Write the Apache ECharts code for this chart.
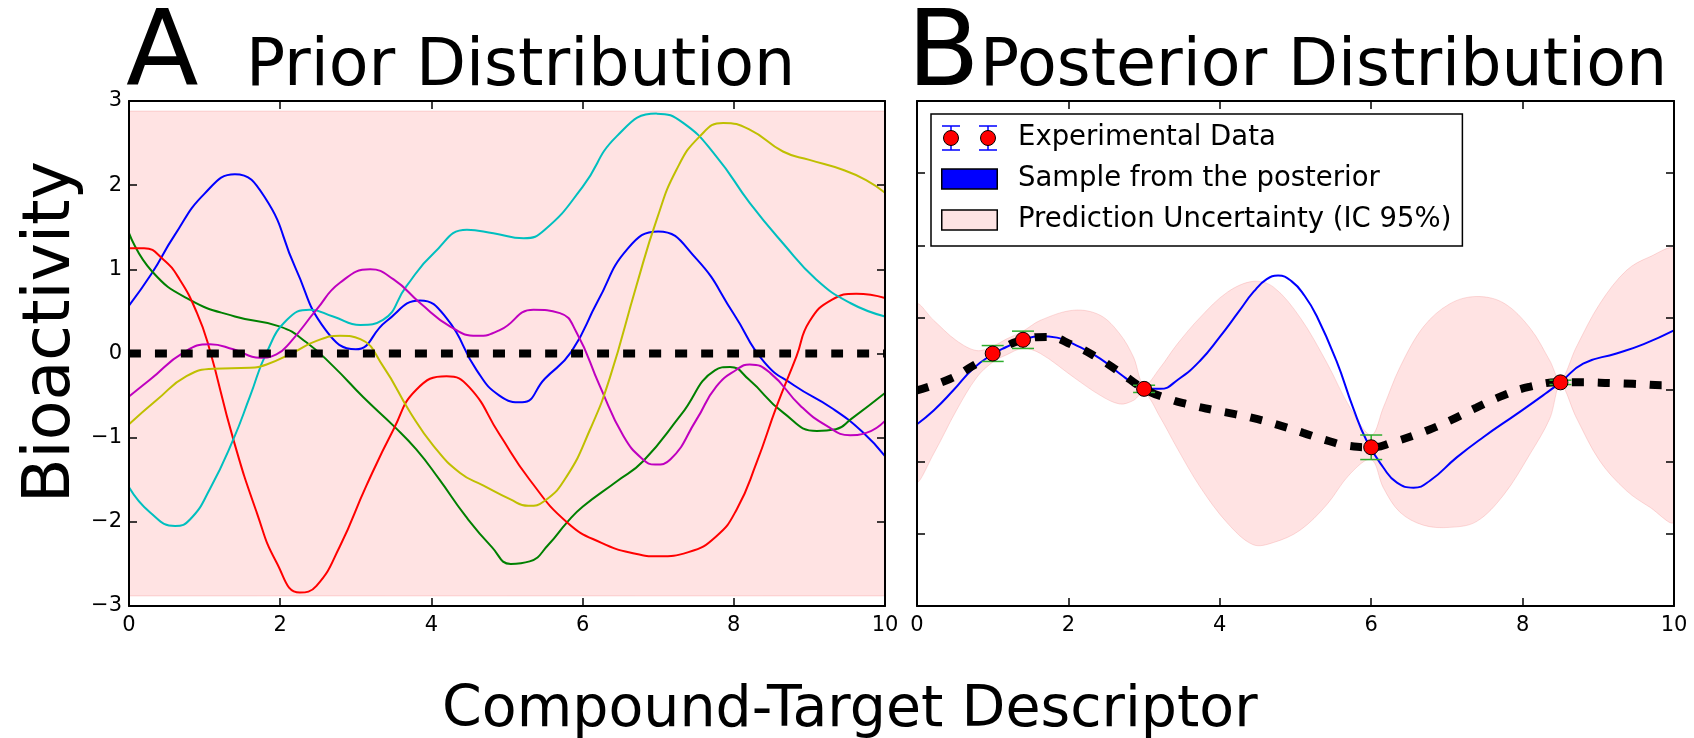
<!DOCTYPE html>
<html>
<head>
<meta charset="utf-8">
<title>Prior and Posterior Distribution</title>
<script src="https://cdn.jsdelivr.net/npm/echarts@6/dist/echarts.min.js"></script>
<style>
  html, body { margin: 0; padding: 0; background: #fff; }
  #chart { width: 1694px; height: 738px; }
</style>
</head>
<body>
<div id="chart"></div>
<script>
// ---- panel A: prior samples ----
const priorBandX = [0, 10]
const priorBandLo = [-2.88, -2.88]
const priorBandHi = [2.88, 2.88]
const priorMeanX = [0, 10]
const priorMeanY = [0, 0]

const blueX = [0, 0.3, 0.6, 1.0, 1.4, 1.8, 2.2, 2.6, 3.0, 3.4, 3.85, 4.2, 4.6, 4.9, 5.2, 5.5, 5.85, 6.2, 6.6, 7.0, 7.5, 8.0, 8.4, 8.8, 9.3, 9.7, 10]
const blueY = [0.57, 0.95, 1.4, 1.9, 2.13, 1.85, 1.02, 0.28, 0.05, 0.38, 0.63, 0.42, -0.2, -0.5, -0.58, -0.3, 0.02, 0.62, 1.25, 1.45, 1.13, 0.47, -0.1, -0.38, -0.65, -0.93, -1.22]

const greenX = [0, 0.3, 0.8, 1.4, 2.0, 2.35, 2.7, 3.1, 3.5, 3.8, 4.1, 4.45, 4.8, 5.05, 5.3, 5.55, 5.8, 6.0, 6.45, 6.8, 7.3, 7.75, 7.95, 8.2, 8.65, 9.1, 9.35, 9.55, 10]
const greenY = [1.43, 0.98, 0.64, 0.44, 0.32, 0.13, -0.15, -0.52, -0.86, -1.14, -1.49, -1.93, -2.3, -2.5, -2.47, -2.27, -2.0, -1.82, -1.52, -1.28, -0.73, -0.2, -0.16, -0.31, -0.7, -0.92, -0.9, -0.78, -0.47]

const redX = [0, 0.2, 0.45, 0.67, 0.9, 1.05, 1.38, 1.69, 1.95, 2.26, 2.48, 2.79, 3.14, 3.5, 3.8, 4.2, 4.5, 4.9, 5.3, 5.8, 6.25, 6.7, 7.0, 7.4, 7.77, 8.04, 8.3, 8.57, 8.83, 9.0, 9.3, 9.62, 10]
const redY = [1.25, 1.25, 1.12, 0.88, 0.48, 0.1, -1.02, -1.89, -2.48, -2.84, -2.76, -2.29, -1.57, -0.9, -0.43, -0.27, -0.4, -0.96, -1.5, -2.01, -2.25, -2.38, -2.41, -2.36, -2.17, -1.85, -1.3, -0.62, -0.03, 0.38, 0.64, 0.71, 0.66]

const cyanX = [0, 0.28, 0.61, 0.81, 1.07, 1.38, 1.6, 1.82, 2.09, 2.39, 2.7, 3.06, 3.36, 3.67, 4.03, 4.47, 4.82, 5.22, 5.5, 6.0, 6.45, 6.98, 7.33, 7.77, 8.21, 8.65, 9.09, 9.54, 10]
const cyanY = [-1.59, -1.89, -2.05, -1.97, -1.61, -1.02, -0.51, 0.01, 0.4, 0.52, 0.44, 0.34, 0.4, 0.8, 1.19, 1.47, 1.43, 1.37, 1.47, 1.98, 2.58, 2.85, 2.74, 2.34, 1.79, 1.31, 0.88, 0.6, 0.44]

const magentaX = [0, 0.28, 0.72, 1.07, 1.38, 1.73, 1.95, 2.13, 2.48, 2.79, 3.19, 3.5, 3.85, 4.25, 4.6, 4.91, 5.35, 5.7, 5.92, 6.23, 6.54, 6.8, 6.96, 7.16, 7.51, 7.77, 8.04, 8.21, 8.48, 8.88, 9.23, 9.54, 9.76, 10]
const magentaY = [-0.51, -0.31, 0.01, 0.11, 0.05, -0.05, -0.01, 0.13, 0.52, 0.84, 1.0, 0.88, 0.6, 0.32, 0.21, 0.28, 0.52, 0.48, 0.25, -0.39, -0.98, -1.26, -1.32, -1.26, -0.78, -0.39, -0.19, -0.13, -0.23, -0.62, -0.86, -0.97, -0.94, -0.8]

const yellowX = [0, 0.37, 0.76, 1.12, 1.6, 1.82, 2.17, 2.48, 2.79, 3.06, 3.36, 3.72, 4.03, 4.38, 4.69, 5.04, 5.28, 5.5, 5.79, 6.1, 6.36, 6.71, 6.98, 7.24, 7.55, 7.86, 8.21, 8.65, 9.0, 9.45, 9.75, 10]
const yellowY = [-0.84, -0.55, -0.27, -0.18, -0.17, -0.13, 0.01, 0.15, 0.21, 0.17, -0.15, -0.7, -1.1, -1.42, -1.57, -1.73, -1.81, -1.75, -1.46, -0.9, -0.29, 0.8, 1.59, 2.18, 2.58, 2.74, 2.66, 2.4, 2.3, 2.18, 2.06, 1.91]

// ---- panel B: posterior ----
const postX = [0, 0.22, 0.48, 0.74, 1.0, 1.18, 1.4, 1.63, 1.85, 2.11, 2.42, 2.68, 2.9, 3.05, 3.21, 3.45, 3.74, 4.0, 4.25, 4.45, 4.62, 4.77, 4.95, 5.12, 5.28, 5.54, 5.76, 5.94, 6.16, 6.34, 6.56, 6.78, 7.13, 7.48, 7.92, 8.27, 8.5, 8.8, 9.24, 9.6, 10]
const postY = [-0.48, -0.29, -0.01, 0.29, 0.49, 0.59, 0.69, 0.74, 0.72, 0.61, 0.43, 0.22, 0.06, 0.01, 0.01, 0.14, 0.4, 0.73, 1.08, 1.36, 1.53, 1.58, 1.5, 1.3, 1.02, 0.4, -0.25, -0.71, -1.08, -1.29, -1.36, -1.26, -0.94, -0.66, -0.34, -0.08, 0.1, 0.36, 0.5, 0.63, 0.82]

const meanX = [0, 0.44, 0.74, 1.0, 1.4, 1.71, 2.07, 2.37, 2.68, 3.0, 3.3, 3.6, 3.9, 4.2, 4.5, 4.8, 5.1, 5.4, 5.7, 6.0, 6.29, 6.73, 7.04, 7.39, 7.75, 8.1, 8.5, 8.8, 9.16, 9.46, 9.86, 10]
const meanY = [-0.01, 0.15, 0.33, 0.49, 0.69, 0.73, 0.61, 0.45, 0.24, 0.01, -0.12, -0.21, -0.28, -0.34, -0.41, -0.5, -0.6, -0.7, -0.78, -0.8, -0.73, -0.57, -0.43, -0.25, -0.08, 0.04, 0.1, 0.1, 0.09, 0.08, 0.06, 0.06]

const bandX = [0, 0.22, 0.52, 0.79, 1.0, 1.18, 1.4, 1.63, 2.07, 2.42, 2.68, 2.86, 3.0, 3.21, 3.43, 3.74, 4.1, 4.44, 4.71, 5.06, 5.41, 5.72, 6.0, 6.16, 6.38, 6.69, 7.04, 7.39, 7.75, 8.1, 8.36, 8.5, 8.71, 9.02, 9.37, 9.68, 10]
const bandHi = [1.17, 0.96, 0.68, 0.54, 0.6, 0.7, 0.81, 0.96, 1.1, 1.03, 0.77, 0.45, 0.06, 0.3, 0.62, 1.0, 1.35, 1.5, 1.42, 1.0, 0.38, -0.25, -0.63, -0.25, 0.31, 0.87, 1.19, 1.29, 1.2, 0.85, 0.4, 0.13, 0.59, 1.19, 1.65, 1.84, 1.93]
const bandLo = [-1.26, -0.89, -0.29, 0.17, 0.38, 0.48, 0.57, 0.5, 0.17, -0.08, -0.2, -0.15, -0.04, -0.38, -0.8, -1.35, -1.85, -2.15, -2.12, -1.95, -1.6, -1.17, -0.97, -1.36, -1.7, -1.88, -1.91, -1.83, -1.46, -0.89, -0.4, 0.07, -0.39, -0.99, -1.4, -1.63, -1.82]

const pointX = [1, 1.4, 3, 6, 8.5]
const pointY = [0.5, 0.69, 0.01, -0.8, 0.1]
const pointErr = [0.11, 0.12, 0.05, 0.17, 0.03]

const xTicks = [0, 10, 2]      // min, max, interval
const priorYTicks = [-3, 3, 1]
const postYTicks = [-3, 4, 1]

const FONT = '"DejaVu Sans", sans-serif'

function pairs(xs, ys) {
  return xs.map((x, i) => [x, ys[i]])
}

function minus(v) {
  return v < 0 ? '\u2212' + Math.abs(v) : String(v)
}

function svgIcon(body) {
  return 'image://data:image/svg+xml;charset=utf-8,' + encodeURIComponent(
    '<svg xmlns="http://www.w3.org/2000/svg" width="72" height="26" viewBox="0 0 72 26" preserveAspectRatio="none">' + body + '</svg>')
}

const iconData = svgIcon(
  '<path d="M10 1V25M1 1H19M1 25H19M47 1V25M38 1H56M38 25H56" stroke="#0000ff" stroke-width="1.5" fill="none"/>' +
  '<circle cx="10" cy="13" r="7.5" fill="#ff0000" stroke="#000" stroke-width="1"/>' +
  '<circle cx="47" cy="13" r="7.5" fill="#ff0000" stroke="#000" stroke-width="1"/>')
const iconSample = svgIcon('<rect x="0.75" y="3" width="55.5" height="20" fill="#0000ff" stroke="#000" stroke-width="1.5"/>')
const iconBand = svgIcon('<rect x="0.75" y="3" width="55.5" height="20" fill="#fde3e3" stroke="#000" stroke-width="1.5"/>')

const frameLine = { onZero: false, lineStyle: { color: '#000', width: 2 } }
const frameTick = { inside: true, length: 8, lineStyle: { color: '#000', width: 1.5 } }

function xAxisPair(gridIndex) {
  const base = {
    gridIndex: gridIndex,
    type: 'value',
    min: xTicks[0],
    max: xTicks[1],
    interval: xTicks[2],
    z: 10,
    splitLine: { show: false },
    axisLine: frameLine,
    axisTick: frameTick
  }
  return [
    Object.assign({}, base, {
      position: 'bottom',
      axisLabel: { fontSize: 21, color: '#000', fontFamily: FONT, margin: 9 }
    }),
    Object.assign({}, base, { position: 'top', axisLabel: { show: false } })
  ]
}

function yAxisPair(gridIndex, ticks, showLabel) {
  const base = {
    gridIndex: gridIndex,
    type: 'value',
    min: ticks[0],
    max: ticks[1],
    interval: ticks[2],
    z: 10,
    splitLine: { show: false },
    axisLine: frameLine,
    axisTick: frameTick
  }
  return [
    Object.assign({}, base, {
      position: 'left',
      axisLabel: showLabel
        ? { fontSize: 21, color: '#000', fontFamily: FONT, margin: 7, formatter: minus }
        : { show: false }
    }),
    Object.assign({}, base, { position: 'right', axisLabel: { show: false } })
  ]
}

function bandSeries(name, xs, lo, hi, axisIndex, smooth) {
  return {
    name: name,
    type: 'custom',
    xAxisIndex: axisIndex,
    yAxisIndex: axisIndex,
    z: 1,
    silent: true,
    data: xs.map((x, i) => [x, lo[i], hi[i]]),
    encode: { x: 0, y: [1, 2] },
    renderItem: function (params, api) {
      if (params.dataIndex !== 0) return
      const cs = params.coordSys
      const top = xs.map((x, i) => api.coord([x, hi[i]]))
      const bottom = xs.map((x, i) => api.coord([x, lo[i]])).reverse()
      return {
        type: 'polygon',
        shape: {
          points: top.concat(bottom),
          smooth: smooth,
          smoothConstraint: [[cs.x, cs.y], [cs.x + cs.width, cs.y + cs.height]]
        },
        style: { fill: 'rgba(255, 0, 0, 0.11)', stroke: 'rgba(240, 120, 120, 0.25)', lineWidth: 1 }
      }
    }
  }
}

function curve(name, xs, ys, color, axisIndex) {
  return {
    name: name,
    type: 'line',
    xAxisIndex: axisIndex,
    yAxisIndex: axisIndex,
    data: pairs(xs, ys),
    smooth: 0.5,
    showSymbol: false,
    z: 3,
    lineStyle: { color: color, width: 2 }
  }
}

function dashed(name, xs, ys, axisIndex) {
  return {
    name: name,
    type: 'line',
    xAxisIndex: axisIndex,
    yAxisIndex: axisIndex,
    data: pairs(xs, ys),
    smooth: 0.5,
    showSymbol: false,
    z: 5,
    lineStyle: { color: '#000', width: 8, type: [12, 14], cap: 'butt' }
  }
}

const xAxes = xAxisPair(0).concat(xAxisPair(1))
const yAxes = yAxisPair(0, priorYTicks, true).concat(yAxisPair(1, postYTicks, false))
// axis pairs: index 0,1 -> grid 0; 2,3 -> grid 1. Series use the bottom / left one.
const A = 0
const B = 2

const chart = echarts.init(document.getElementById('chart'))
chart.setOption({
  animation: false,
  backgroundColor: '#fff',
  textStyle: { fontFamily: FONT },
  grid: [
    { left: 129, top: 101, width: 756, height: 505 },
    { left: 917, top: 101, width: 757, height: 505 }
  ],
  xAxis: xAxes,
  yAxis: yAxes,
  legend: {
    orient: 'vertical',
    left: 931,
    top: 114,
    padding: [10, 11, 12, 10],
    itemWidth: 72,
    itemHeight: 26,
    itemGap: 13,
    borderColor: '#000',
    borderWidth: 1.5,
    backgroundColor: '#fff',
    selectedMode: false,
    z: 20,
    textStyle: { fontSize: 27.5, color: '#000', fontFamily: FONT, lineHeight: 26 },
    data: [
      { name: 'Experimental Data', icon: iconData },
      { name: 'Sample from the posterior', icon: iconSample },
      { name: 'Prediction Uncertainty (IC 95%)', icon: iconBand }
    ]
  },
  graphic: [
    { type: 'text', left: 126, top: 4, style: { text: 'A', font: '106px ' + FONT, fill: '#000' } },
    { type: 'text', left: 246, top: 36, style: { text: 'Prior Distribution', font: '65px ' + FONT, fill: '#000' } },
    { type: 'text', left: 907, top: 4, style: { text: 'B', font: '106px ' + FONT, fill: '#000' } },
    { type: 'text', left: 980, top: 36, style: { text: 'Posterior Distribution', font: '65px ' + FONT, fill: '#000' } },
    { type: 'text', left: 442, top: 683, style: { text: 'Compound-Target Descriptor', font: '57px ' + FONT, fill: '#000' } },
    {
      type: 'text',
      x: 52,
      y: 332,
      rotation: Math.PI / 2,
      style: {
        text: 'Bioactivity', font: '65px ' + FONT, fill: '#000',
        align: 'center', verticalAlign: 'middle', textAlign: 'center', textVerticalAlign: 'middle'
      }
    }
  ],
  series: [
    bandSeries('prior band', priorBandX, priorBandLo, priorBandHi, A, 0),
    curve('prior sample blue', blueX, blueY, '#0000ff', A),
    curve('prior sample green', greenX, greenY, '#008000', A),
    curve('prior sample red', redX, redY, '#ff0000', A),
    curve('prior sample cyan', cyanX, cyanY, '#00bfbf', A),
    curve('prior sample magenta', magentaX, magentaY, '#bf00bf', A),
    curve('prior sample yellow', yellowX, yellowY, '#bfbf00', A),
    dashed('prior mean', priorMeanX, priorMeanY, A),

    bandSeries('Prediction Uncertainty (IC 95%)', bandX, bandLo, bandHi, B, 0.35),
    curve('Sample from the posterior', postX, postY, '#0000ff', B),
    dashed('posterior mean', meanX, meanY, B),
    {
      name: 'error bars',
      type: 'custom',
      xAxisIndex: B,
      yAxisIndex: B,
      z: 6,
      silent: true,
      data: pointX.map((x, i) => [x, pointY[i], pointErr[i]]),
      encode: { x: 0, y: 1 },
      renderItem: function (params, api) {
        const x = api.value(0)
        const y = api.value(1)
        const e = api.value(2)
        const hi = api.coord([x, y + e])
        const lo = api.coord([x, y - e])
        const w = 11
        const style = { stroke: '#2fae2f', lineWidth: 1.5 }
        return {
          type: 'group',
          children: [
            { type: 'line', shape: { x1: hi[0], y1: hi[1], x2: lo[0], y2: lo[1] }, style: style },
            { type: 'line', shape: { x1: hi[0] - w, y1: hi[1], x2: hi[0] + w, y2: hi[1] }, style: style },
            { type: 'line', shape: { x1: lo[0] - w, y1: lo[1], x2: lo[0] + w, y2: lo[1] }, style: style }
          ]
        }
      }
    },
    {
      name: 'Experimental Data',
      type: 'scatter',
      xAxisIndex: B,
      yAxisIndex: B,
      z: 7,
      symbol: 'circle',
      symbolSize: 15,
      itemStyle: { color: '#ff0000', borderColor: '#000', borderWidth: 1, opacity: 1 },
      data: pairs(pointX, pointY)
    }
  ]
})
</script>
</body>
</html>
